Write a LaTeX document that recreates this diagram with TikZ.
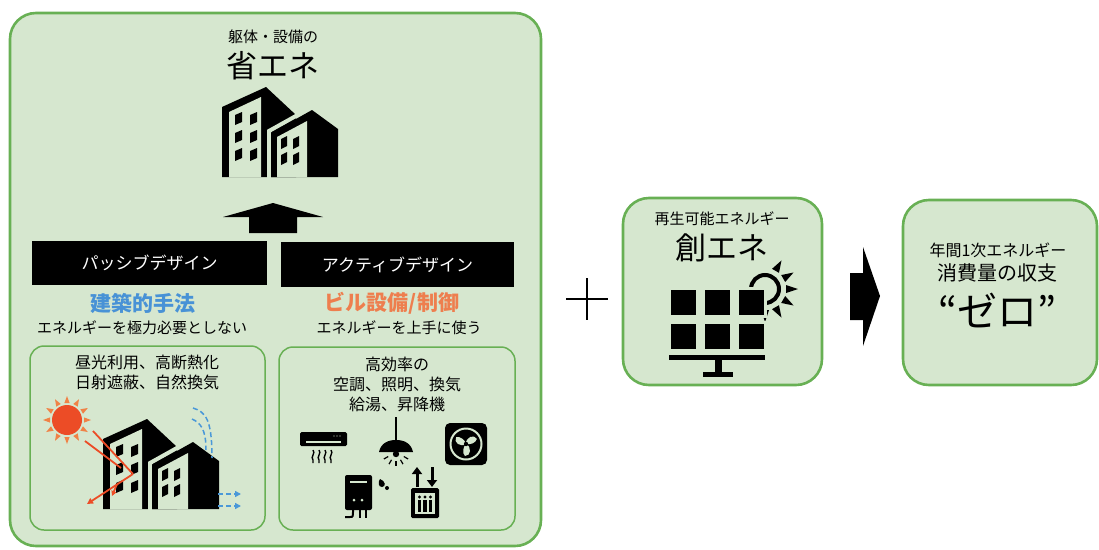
\documentclass[tikz,border=0pt]{standalone}
\usepackage{fontspec}
\setmainfont{Noto Sans CJK JP}
\usetikzlibrary{arrows.meta}
\definecolor{boxfill}{RGB}{214,231,207}
\definecolor{boxline}{RGB}{104,176,84}
\definecolor{passblue}{RGB}{72,146,214}
\definecolor{actorange}{RGB}{238,126,78}
\definecolor{sunred}{RGB}{236,76,38}
\definecolor{sunray}{RGB}{240,130,70}
\definecolor{airblue}{RGB}{74,152,216}
\newcommand{\pxsize}[2]{\fontsize{#1}{#2}\selectfont}
\tikzset{
  building/.pic={
    \fill (0,20) -- (44,0) -- (74,28) -- (74,90) -- (0,90) -- cycle;
    \fill[boxfill] (7,25) -- (39,10) -- (39,90) -- (7,90) -- cycle;
    \foreach \wx in {13,28}
      \foreach \wy in {27,45,63}
        \fill (\wx,\wy+1) -- (\wx+7,\wy-2) -- (\wx+7,\wy+8) -- (\wx,\wy+11) -- cycle;
    \draw[boxfill,line width=4pt] (47,92) -- (47,44) -- (90,20);
    \fill (49,46) -- (90,23) -- (116,42) -- (116,90) -- (49,90) -- cycle;
    \fill[boxfill] (55,50) -- (85,34) -- (85,90) -- (55,90) -- cycle;
    \foreach \wx in {59,71}
      \foreach \wy in {51,67}
        \fill (\wx,\wy+1) -- (\wx+6,\wy-2) -- (\wx+6,\wy+8) -- (\wx,\wy+11) -- cycle;
  }
}
\begin{document}
\begin{tikzpicture}[x=1pt,y=-1pt,
    panel/.style={draw=boxline,fill=boxfill,line width=2.6pt,rounded corners=26pt,inner sep=0pt},
    subpanel/.style={draw=boxline,fill=boxfill,line width=1.5pt,rounded corners=14pt,inner sep=0pt},
    designbar/.style={fill=black,text=white,inner sep=0pt,font=\pxsize{17}{20}},
    caption/.style={inner sep=0pt,font=\pxsize{15}{18}},
    heading/.style={inner sep=0pt,font=\pxsize{21}{24}\bfseries},
    ray/.style={sunred,line width=1.8pt},
    air/.style={airblue,dashed,line width=1.5pt,dash pattern=on 5pt off 3pt}]
  \useasboundingbox (0,0) rectangle (1099,549);

  % saving energy
  \node[panel,minimum width=531,minimum height=533] (save) at (275.5,279.5) {};
  \node[caption] (savesub) at (273,37) {躯体・設備の};
  \node[inner sep=0pt,font=\pxsize{31}{34}] (savetitle) at (273,66) {省エネ};
  \pic at (222,87) {building};
  \fill (223,217) -- (273,203) -- (323,217) -- (297,217) -- (297,233) -- (249,233) -- (249,217) -- cycle;

  \node[designbar,minimum width=235,minimum height=44] (passive) at (149.5,263) {パッシブデザイン};
  \node[designbar,minimum width=233,minimum height=45] (active) at (397.5,264.5) {アクティブデザイン};
  \node[heading,text=passblue] (passhead) at (143,303) {建築的手法};
  \node[heading,text=actorange] (acthead) at (392,303) {ビル設備/制御};
  \node[caption] (passnote) at (142,328) {エネルギーを極力必要としない};
  \node[caption] (actnote) at (399,328) {エネルギーを上手に使う};

  \node[subpanel,minimum width=235,minimum height=184] (passbox) at (147.5,438) {};
  \node[subpanel,minimum width=236,minimum height=183] (actbox) at (397,438.5) {};
  \node[inner sep=0pt,align=center,font=\pxsize{16}{20}] (passlist) at (147,372)
    {昼光利用、高断熱化\\日射遮蔽、自然換気};
  \node[inner sep=0pt,align=center,font=\pxsize{16}{20}] (actlist) at (397,384)
    {高効率の\\空調、照明、換気\\給湯、昇降機};

  % sun, shading and ventilation
  \foreach \a in {0,30,...,330}
    \fill[sunray,shift={(67,420)},rotate=\a] (17,-2.6) -- (24,0) -- (17,2.6) -- cycle;
  \fill[sunred] (67,420) circle (15);
  \pic at (103,419) {building};
  \draw[ray] (93,431) -- (133,474);
  \draw[ray] (85,441) -- (121,468);
  \draw[ray,-{Triangle[length=6pt,width=6pt]}] (133,474) -- (87,504);
  \draw[ray,-{Triangle[length=5pt,width=5pt]}] (117,484) -- (112,496);
  \draw[air] (193,408) .. controls (206,412) and (212,420) .. (212,458);
  \draw[air] (192,419) .. controls (201,423) and (206,430) .. (206,450);
  \draw[air,-{Triangle[length=6pt,width=6pt]}] (218,494) -- (241,494);
  \draw[air,-{Triangle[length=6pt,width=6pt]}] (218,506) -- (241,506);

  % equipment icons
  \fill[rounded corners=1.5pt] (300,432) rectangle (347,446);
  \draw[boxfill,line width=1.2pt] (306,442) -- (341,442);
  \foreach \dx in {334,337,340}
    \fill[boxfill] (\dx,436) circle (0.7);
  \foreach \hx in {313,319,325,331}
    \draw[line width=1.4pt] (\hx,450) .. controls (\hx+3,453) and (\hx-3,457) .. (\hx,460) -- (\hx,463);
  \draw[line width=2pt] (396,417) -- (396,440);
  \fill (379,452) .. controls (381,443) and (388,440) .. (396,440)
    .. controls (404,440) and (411,443) .. (413,452) -- cycle;
  \fill (396,454) circle (3.2);
  \foreach \a in {30,60,90,120,150}
    \draw[line width=1.2pt,shift={(396,452)}] (\a:9) -- (\a:14);
  \fill[rounded corners=5pt] (445,423) rectangle (487,465);
  \draw[boxfill,line width=2pt] (466,444) circle (15.5);
  \foreach \a in {-90,30,150}
    \fill[boxfill,shift={(466,444)},rotate=\a] (0,0) .. controls (3,-6) and (12,-5) .. (12,1)
      .. controls (9,4) and (3,3) .. (0,0);
  \fill (466,444) circle (2.2);
  \fill[rounded corners=2pt] (345,475) rectangle (372,510);
  \draw[boxfill,line width=1.5pt] (350,482) -- (367,482);
  \fill[boxfill] (354,500) circle (1.5) (362,500) circle (1.5);
  \draw[line width=2pt] (345,517) -- (350,517) .. controls (353,517) .. (353,510);
  \draw[line width=2pt] (360,510) -- (360,518) (366,510) -- (366,518);
  \fill (380,479) .. controls (386,481) and (386,487) .. (382,487) .. controls (378,487) and (378,482) .. (380,479);
  \fill (387,488) circle (2);
  \draw[line width=3pt,-{Triangle[length=7pt,width=10pt]}] (417,487) -- (417,467);
  \draw[line width=3pt,-{Triangle[length=7pt,width=10pt]}] (432,467) -- (432,487);
  \fill[rounded corners=1.5pt] (411,488) rectangle (439,518);
  \fill[boxfill] (415,493) rectangle (435,514);
  \foreach \px in {419.5,425,430.5} {
    \fill (\px,497) circle (1.6);
    \fill (\px-1.7,500) rectangle (\px+1.7,512);
  }

  \draw[line width=2.2pt] (566,299) -- (608,299) (587,278) -- (587,320);

  % creating energy
  \node[panel,minimum width=199,minimum height=187] (create) at (722.5,291.5) {};
  \node[caption] (createsub) at (722,219) {再生可能エネルギー};
  \node[inner sep=0pt,font=\pxsize{31}{34}] (createtitle) at (722,248) {創エネ};
  \foreach \a in {-150,-120,...,60}
    \fill[shift={(765,289)},rotate=\a] (21,-4) -- (33,0) -- (21,4) -- cycle;
  \draw[line width=4pt] (765,289) circle (14);
  \foreach \cx in {669,703,737}
    \foreach \cy in {288,322}
      \filldraw[draw=boxfill,line width=3pt] (\cx,\cy) rectangle (\cx+28,\cy+28);
  \fill (669,355) rectangle (765,360);
  \fill (715,360) rectangle (722,374);
  \fill (703,372) rectangle (733,377);

  \fill (850,273) -- (863,273) -- (863,247) -- (880,296) -- (863,346) -- (863,320) -- (850,320) -- cycle;

  % net zero
  \node[panel,minimum width=194,minimum height=185] (zero) at (1000,292.5) {};
  \node[inner sep=0pt,font=\pxsize{16}{18}] (zerosub) at (998,250) {年間1次エネルギー};
  \node[inner sep=0pt,font=\pxsize{20}{22}] (zeromid) at (997,273) {消費量の収支};
  \node[inner sep=0pt,font=\pxsize{40}{44}] (zerotitle) at (997,310) {“ゼロ”};
\end{tikzpicture}
\end{document}
